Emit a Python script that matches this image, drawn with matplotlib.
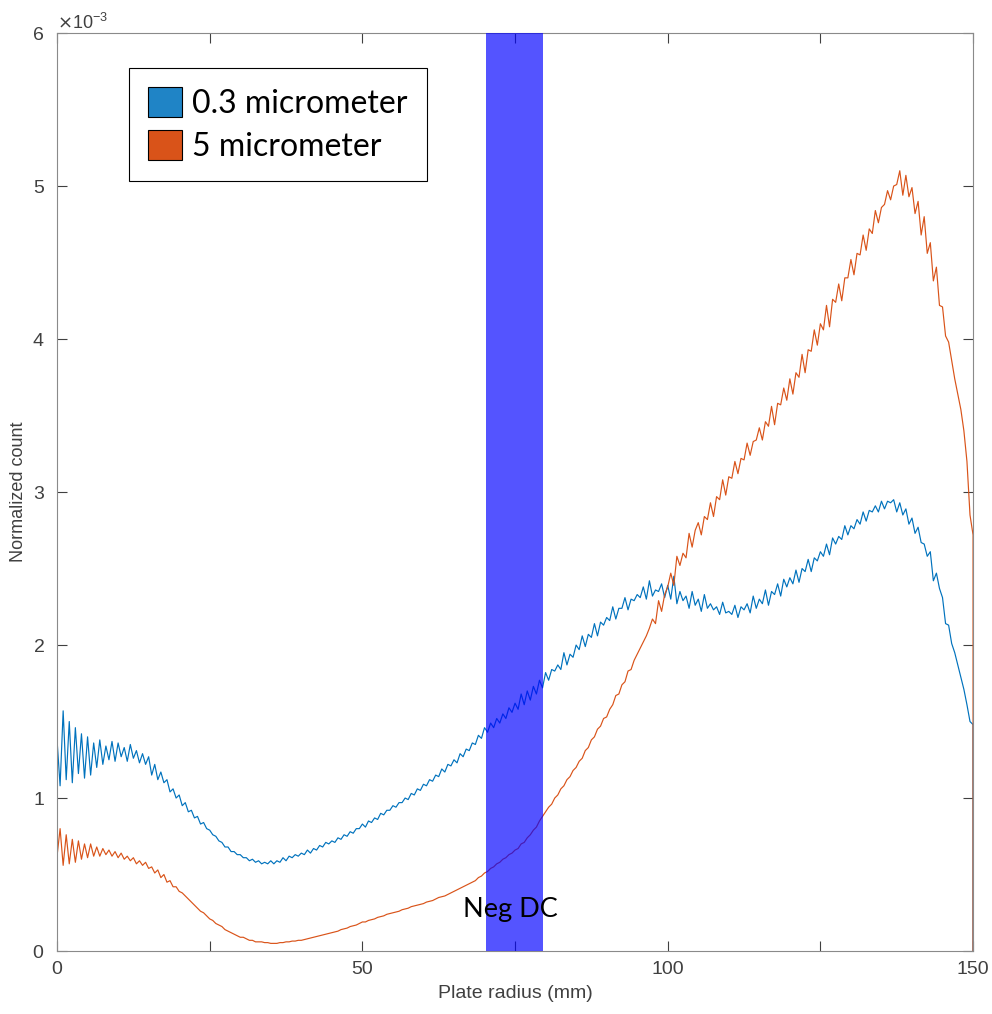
import numpy as np
import matplotlib
matplotlib.use("Agg")
import matplotlib.pyplot as plt
from matplotlib.patches import Patch
from matplotlib.ticker import ScalarFormatter, MultipleLocator


# normalized counts (x1e-3), sampled every 0.5 mm from 0 to 150 mm
count_03um = [
    1.38, 1.08, 1.57, 1.12, 1.50, 1.10, 1.46, 1.16, 1.42, 1.13,
    1.40, 1.15, 1.36, 1.20, 1.38, 1.22, 1.34, 1.25, 1.37, 1.24,
    1.36, 1.27, 1.33, 1.24, 1.35, 1.26, 1.31, 1.23, 1.29, 1.22,
    1.27, 1.15, 1.22, 1.12, 1.17, 1.10, 1.12, 1.04, 1.06, 1.00,
    1.02, 0.95, 0.97, 0.91, 0.92, 0.87, 0.88, 0.83, 0.84, 0.80,
    0.79, 0.76, 0.75, 0.72, 0.71, 0.68, 0.68, 0.65, 0.65, 0.63,
    0.63, 0.61, 0.61, 0.59, 0.60, 0.58, 0.59, 0.57, 0.58, 0.57,
    0.59, 0.57, 0.59, 0.58, 0.61, 0.59, 0.62, 0.61, 0.63, 0.62,
    0.64, 0.63, 0.66, 0.64, 0.67, 0.66, 0.69, 0.68, 0.71, 0.70,
    0.72, 0.71, 0.74, 0.73, 0.76, 0.75, 0.78, 0.77, 0.80, 0.80,
    0.83, 0.81, 0.85, 0.84, 0.87, 0.86, 0.90, 0.89, 0.92, 0.92,
    0.95, 0.94, 0.97, 0.97, 1.00, 0.99, 1.03, 1.02, 1.06, 1.05,
    1.09, 1.08, 1.12, 1.11, 1.15, 1.14, 1.19, 1.17, 1.22, 1.21,
    1.25, 1.23, 1.29, 1.27, 1.32, 1.31, 1.36, 1.35, 1.41, 1.39,
    1.46, 1.43, 1.49, 1.46, 1.52, 1.49, 1.55, 1.52, 1.59, 1.56,
    1.62, 1.58, 1.68, 1.61, 1.70, 1.64, 1.73, 1.68, 1.77, 1.72,
    1.82, 1.77, 1.84, 1.83, 1.87, 1.84, 1.95, 1.87, 1.94, 1.92,
    2.00, 1.97, 2.06, 1.99, 2.07, 2.05, 2.14, 2.06, 2.15, 2.13,
    2.18, 2.16, 2.25, 2.17, 2.24, 2.24, 2.31, 2.23, 2.30, 2.29,
    2.33, 2.31, 2.38, 2.30, 2.42, 2.32, 2.36, 2.35, 2.40, 2.31,
    2.39, 2.30, 2.45, 2.27, 2.35, 2.29, 2.32, 2.24, 2.35, 2.26,
    2.30, 2.22, 2.33, 2.24, 2.27, 2.23, 2.25, 2.20, 2.28, 2.21,
    2.22, 2.20, 2.26, 2.18, 2.25, 2.23, 2.27, 2.21, 2.32, 2.24,
    2.30, 2.27, 2.36, 2.26, 2.35, 2.33, 2.40, 2.32, 2.43, 2.38,
    2.44, 2.40, 2.49, 2.41, 2.50, 2.48, 2.56, 2.48, 2.57, 2.55,
    2.61, 2.58, 2.66, 2.59, 2.70, 2.66, 2.71, 2.69, 2.78, 2.72,
    2.78, 2.76, 2.82, 2.79, 2.87, 2.81, 2.88, 2.87, 2.91, 2.87,
    2.94, 2.89, 2.94, 2.93, 2.95, 2.87, 2.93, 2.85, 2.89, 2.79,
    2.83, 2.73, 2.77, 2.67, 2.66, 2.58, 2.61, 2.42, 2.47, 2.37,
    2.31, 2.14, 2.13, 2.01, 1.95, 1.87, 1.79, 1.71, 1.61, 1.50,
    1.48,
]

count_5um = [
    0.62, 0.80, 0.56, 0.76, 0.57, 0.73, 0.58, 0.72, 0.60, 0.70,
    0.61, 0.70, 0.62, 0.68, 0.62, 0.67, 0.63, 0.66, 0.62, 0.65,
    0.61, 0.64, 0.60, 0.62, 0.59, 0.61, 0.57, 0.59, 0.56, 0.58,
    0.54, 0.55, 0.51, 0.53, 0.48, 0.50, 0.45, 0.46, 0.42, 0.42,
    0.39, 0.38, 0.36, 0.34, 0.32, 0.30, 0.28, 0.26, 0.25, 0.23,
    0.21, 0.20, 0.18, 0.17, 0.16, 0.14, 0.13, 0.12, 0.11, 0.10,
    0.09, 0.09, 0.08, 0.07, 0.07, 0.06, 0.06, 0.06, 0.055, 0.055,
    0.05, 0.05, 0.05, 0.055, 0.055, 0.06, 0.06, 0.065, 0.065, 0.07,
    0.07, 0.075, 0.08, 0.085, 0.09, 0.095, 0.10, 0.105, 0.11, 0.115,
    0.12, 0.125, 0.13, 0.14, 0.145, 0.15, 0.16, 0.165, 0.17, 0.18,
    0.19, 0.19, 0.20, 0.205, 0.21, 0.22, 0.225, 0.23, 0.24, 0.245,
    0.25, 0.255, 0.26, 0.27, 0.275, 0.28, 0.29, 0.295, 0.30, 0.305,
    0.31, 0.32, 0.325, 0.33, 0.34, 0.35, 0.355, 0.36, 0.37, 0.38,
    0.39, 0.40, 0.41, 0.42, 0.43, 0.44, 0.45, 0.46, 0.48, 0.49,
    0.51, 0.52, 0.54, 0.55, 0.57, 0.58, 0.60, 0.61, 0.63, 0.64,
    0.66, 0.67, 0.70, 0.71, 0.74, 0.76, 0.79, 0.81, 0.85, 0.88,
    0.91, 0.94, 0.96, 1.00, 1.02, 1.06, 1.08, 1.12, 1.14, 1.18,
    1.20, 1.24, 1.26, 1.31, 1.33, 1.38, 1.40, 1.45, 1.47, 1.52,
    1.53, 1.58, 1.61, 1.67, 1.68, 1.74, 1.76, 1.83, 1.84, 1.90,
    1.94, 1.98, 2.02, 2.06, 2.11, 2.17, 2.14, 2.29, 2.22, 2.33,
    2.38, 2.47, 2.39, 2.58, 2.52, 2.60, 2.57, 2.73, 2.64, 2.75,
    2.80, 2.72, 2.84, 2.82, 2.93, 2.84, 2.97, 2.95, 3.08, 2.98,
    3.10, 3.09, 3.20, 3.12, 3.22, 3.21, 3.32, 3.24, 3.33, 3.34,
    3.42, 3.34, 3.46, 3.43, 3.56, 3.44, 3.58, 3.57, 3.68, 3.60,
    3.74, 3.64, 3.78, 3.75, 3.90, 3.78, 3.93, 3.92, 4.06, 3.96,
    4.10, 4.06, 4.22, 4.08, 4.26, 4.24, 4.36, 4.25, 4.40, 4.40,
    4.52, 4.42, 4.56, 4.55, 4.68, 4.58, 4.72, 4.69, 4.84, 4.76,
    4.86, 4.88, 4.97, 4.91, 5.00, 5.01, 5.10, 4.94, 5.07, 4.93,
    4.99, 4.82, 4.90, 4.68, 4.80, 4.56, 4.63, 4.38, 4.47, 4.22,
    4.21, 4.02, 3.98, 3.86, 3.74, 3.64, 3.54, 3.40, 3.20, 2.85,
    2.72,
]

radius = np.linspace(0, 150, len(count_03um))
neg_dc = (70.2, 79.6)  # mm

blue = '#0072BD'
orange = '#D95319'
axis_gray = '#8a8a8a'
text_gray = '#404040'

# counts drop to zero at the plate edge
x = np.append(radius, 150)
y1 = np.append(count_03um, 0) * 1e-3
y2 = np.append(count_5um, 0) * 1e-3

fig = plt.figure(figsize=(9.92, 10.14), dpi=100)
ax = fig.add_axes([0.0575, 0.0621, 0.9234, 0.9053])

ax.plot(x, y1, color=blue, lw=0.85)
ax.plot(x, y2, color=orange, lw=0.85)

ax.axvspan(neg_dc[0], neg_dc[1], color='#0000ff', alpha=0.67, lw=0, zorder=5)
ax.text(sum(neg_dc) / 2 - 0.6, 0.27e-3, 'Neg DC', fontsize=19.5, family='Lato',
        ha='center', va='center', color='black', zorder=6)

ax.set_xlim(0, 150)
ax.set_ylim(0, 6e-3)
ax.xaxis.set_major_locator(MultipleLocator(50))
ax.xaxis.set_minor_locator(MultipleLocator(25))
ax.yaxis.set_major_locator(MultipleLocator(1e-3))

fmt = ScalarFormatter(useMathText=True)
fmt.set_powerlimits((-2, 2))
ax.yaxis.set_major_formatter(fmt)

for s in ax.spines.values():
    s.set_color(axis_gray)
ax.tick_params(which='both', direction='in', top=True, right=True, length=7,
               color=text_gray, labelcolor=text_gray, labelsize=14, width=0.8)
ax.tick_params(axis='y', pad=9)
ax.tick_params(axis='x', pad=7)
for lab in ax.get_xticklabels() + ax.get_yticklabels():
    lab.set_family('Liberation Sans')
off = ax.yaxis.get_offset_text()
off.set_fontsize(13)
off.set_color(text_gray)
off.set_family('Liberation Sans')

ax.set_xlabel('Plate radius (mm)', fontsize=14, color=text_gray,
              family='Liberation Sans', labelpad=5)
ax.set_ylabel('Normalized count', fontsize=13, color=text_gray,
              family='Liberation Sans', labelpad=4)

handles = [Patch(facecolor='#1f84c6', edgecolor='black', lw=0.8),
           Patch(facecolor=orange, edgecolor='black', lw=0.8)]
leg = ax.legend(handles, ['0.3 micrometer', '5 micrometer'],
                loc='upper left', bbox_to_anchor=(0.0786, 0.962),
                prop={'family': 'Lato', 'size': 23}, frameon=True,
                fancybox=False, edgecolor='black', framealpha=1,
                borderaxespad=0, handlelength=1.07, handleheight=1.07,
                handletextpad=0.3, labelspacing=0.35, borderpad=0.6)
leg.get_frame().set_linewidth(0.8)
leg.set_zorder(10)

fig.savefig('out.png', dpi=100)
